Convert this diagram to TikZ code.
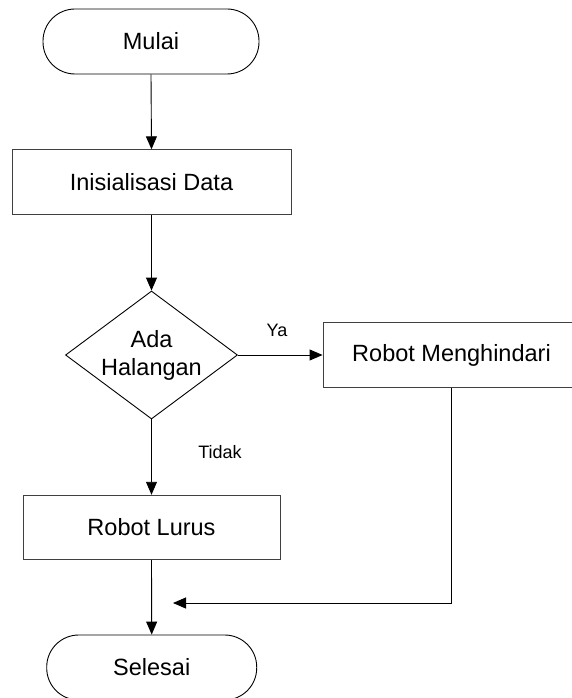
\documentclass[tikz,border=0pt]{standalone}
\usepackage{fontspec}
\setmainfont{Liberation Sans}
\usetikzlibrary{shapes.geometric,arrows.meta}
\begin{document}
\begin{tikzpicture}[x=1pt,y=-1pt,
  every node/.style={font=\fontsize{23.5}{28}\selectfont, inner sep=0pt, align=center},
  termbox/.style={draw, line width=0.9pt, rounded corners=32pt, minimum height=65pt},
  procbox/.style={draw, line width=0.9pt, draw=black!75, minimum height=64.5pt},
  decbox/.style={draw, line width=0.9pt, diamond, minimum width=172pt, minimum height=128pt},
  lbl/.style={font=\fontsize{18}{21}\selectfont},
  arr/.style={line width=0.9pt, -{Triangle[length=13pt,width=11pt]}}]
\useasboundingbox (0,0) rectangle (571,698);
\node[termbox, minimum width=216pt] (mulai) at (151,41.5) {Mulai};
\node[procbox, minimum width=279pt] (init) at (151.5,182) {Inisialisasi Data};
\node[decbox] (dec) at (151.5,355) {};
\node (dectxt) at (151.5,355) {Ada\\Halangan};
\node[procbox, minimum width=257pt] (hind) at (451.5,355) {Robot Menghindari};
\node[procbox, minimum width=257pt] (lurus) at (151.5,527.5) {Robot Lurus};
\node[termbox, minimum width=210pt] (selesai) at (151.7,667.5) {Selesai};
\coordinate (join) at (173,603);
\node[lbl] (ya) at (277,330) {Ya};
\node[lbl] (tidak) at (220,452) {Tidak};
\draw[arr] (mulai.south) -- (init.north);
\draw[arr] (init.south) -- (dec.north);
\draw[arr] (dec.east) -- (hind.west);
\draw[arr] (dec.south) -- (lurus.north);
\draw[arr] (lurus.south) -- (selesai.north);
\draw[arr] (hind.south) |- (join);
\end{tikzpicture}
\end{document}
